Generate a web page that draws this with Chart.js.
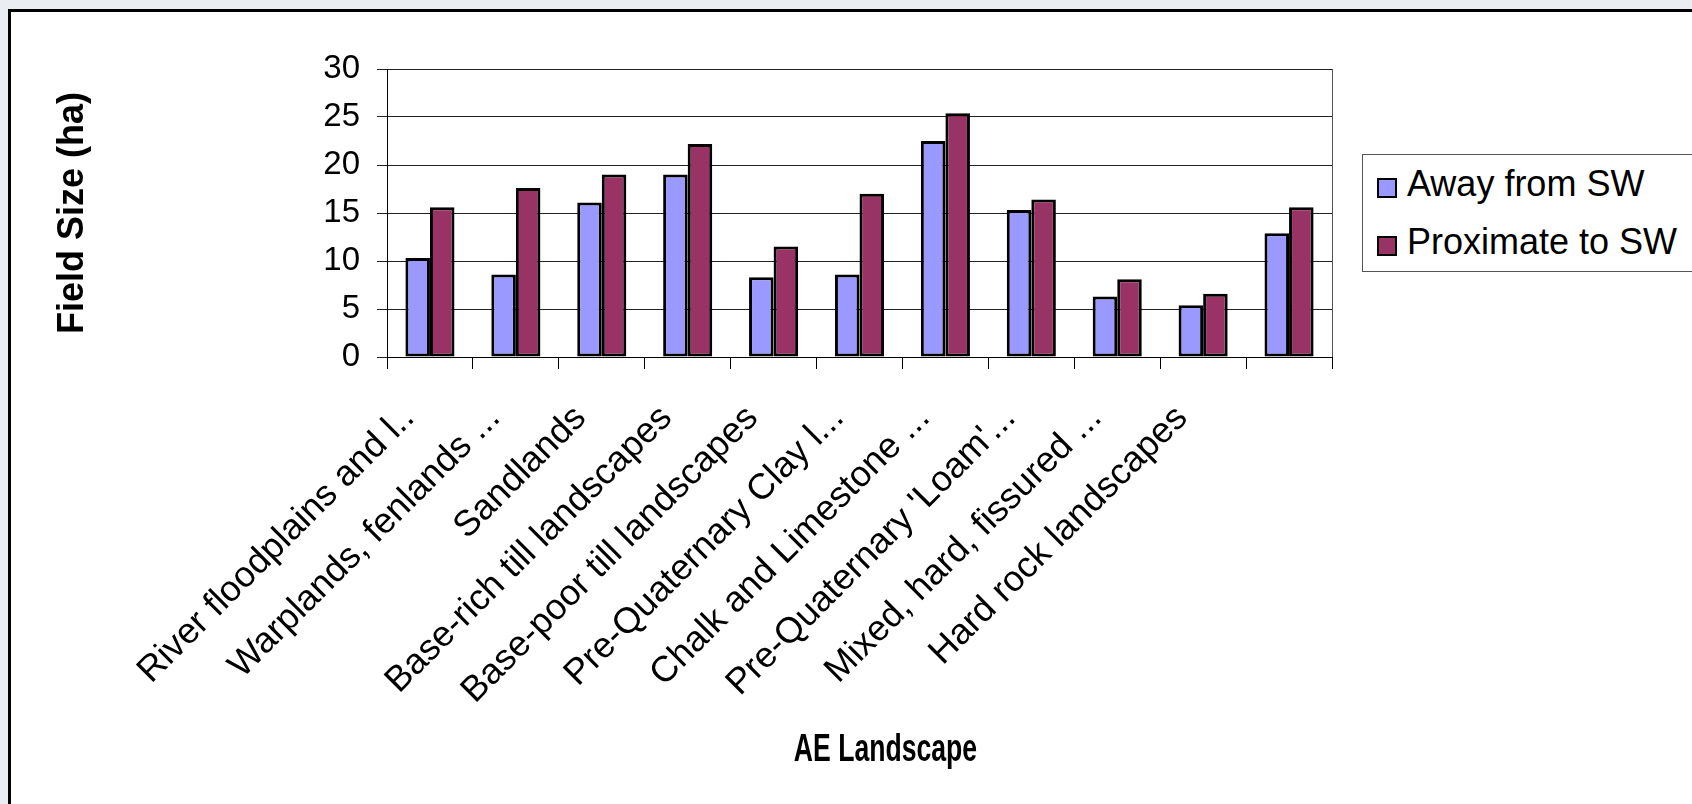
<!DOCTYPE html>
<html>
<head>
<meta charset="utf-8">
<title>Field size by AE landscape</title>
<script src="https://cdn.jsdelivr.net/npm/chart.js@4.4.1/dist/chart.umd.min.js"></script>
<style>
    html, body {
        margin: 0;
        width: 1692px;
        height: 804px;
        overflow: hidden;
        background: #eaedf1;
        font-family: "Liberation Sans", Arial, sans-serif;
    }
    #frame {
        position: absolute;
        left: 8px;
        top: 9px;
        width: 1720px;
        height: 830px;
        background: #fff;
        border-left: 3px solid #000;
        border-top: 3px solid #000;
    }
    #chartBox {
        position: absolute;
        left: 0;
        top: 0;
        width: 1692px;
        height: 804px;
    }
    #legend {
        position: absolute;
        left: 1362px;
        top: 154px;
        width: 380px;
        height: 118px;
        box-sizing: border-box;
        border: 1px solid #555;
        background: #fff;
    }
    .legend-box {
        position: absolute;
        width: 16px;
        height: 16px;
        border: 2px solid #000;
    }
    .legend-text {
        position: absolute;
        font-size: 36px;
        line-height: 36px;
        color: #000;
        white-space: nowrap;
    }
</style>
</head>
<body>
<div id="frame"></div>
<div id="chartBox"><canvas id="barChart"></canvas></div>
<div id="legend"></div>

<script>
const landscapes = [
    "River floodplains and l..",
    "Warplands, fenlands ...",
    "Sandlands",
    "Base-rich till landscapes",
    "Base-poor till landscapes",
    "Pre-Quaternary Clay l...",
    "Chalk and Limestone ...",
    "Pre-Quaternary 'Loam'...",
    "Mixed, hard, fissured ...",
    "Hard rock landscapes",
    ""
];

const awayFromSW = [10.3, 8.6, 16.1, 19.0, 8.3, 8.6, 22.5, 15.3, 6.3, 5.4, 12.9];
const proximateToSW = [15.6, 17.6, 19.0, 22.2, 11.5, 17.0, 25.4, 16.4, 8.1, 6.6, 15.6];

const seriesNames = ["Away from SW", "Proximate to SW"];
const seriesColors = ["#9999ff", "#993366"];

const yTicks = [0, 5, 10, 15, 20, 25, 30];
const yTitle = "Field Size (ha)";
const xTitle = "AE Landscape";

Chart.defaults.font.family = "'Liberation Sans', Arial, sans-serif";
Chart.defaults.color = "#000";

/* ================= PLUGINS ================= */

// thin line closing the plot area on the right
const plotFrame = {
    id: "plotFrame",
    afterDraw(chart) {
        const { ctx, chartArea: a } = chart;
        const x = Math.round(a.right) + 0.5;
        ctx.save();
        ctx.strokeStyle = "#555";
        ctx.lineWidth = 1;
        ctx.beginPath();
        ctx.moveTo(x, a.top);
        ctx.lineTo(x, a.bottom);
        ctx.stroke();
        ctx.restore();
    }
};

// x axis caption, drawn narrow like the original bold caption
const xCaption = {
    id: "xCaption",
    afterDraw(chart) {
        const { ctx, chartArea: a } = chart;
        ctx.save();
        ctx.font = "bold 38px 'Liberation Sans', Arial, sans-serif";
        ctx.fillStyle = "#000";
        ctx.textAlign = "center";
        ctx.textBaseline = "alphabetic";
        ctx.translate((a.left + a.right) / 2 + 26, 761);
        ctx.scale(0.7, 1);
        ctx.fillText(xTitle, 0, 0);
        ctx.restore();
    }
};

/* ================= CHART ================= */

const barChart = new Chart(document.getElementById("barChart"), {
    type: "bar",
    data: {
        labels: landscapes,
        datasets: [
            {
                label: seriesNames[0],
                data: awayFromSW,
                backgroundColor: seriesColors[0]
            },
            {
                label: seriesNames[1],
                data: proximateToSW,
                backgroundColor: seriesColors[1]
            }
        ]
    },
    options: {
        responsive: true,
        maintainAspectRatio: false,
        animation: false,
        layout: {
            padding: { top: 69, right: 360, bottom: 0, left: 0 }
        },
        datasets: {
            bar: {
                categoryPercentage: 2 / 3.5,
                barPercentage: 1,
                borderColor: "#000",
                borderWidth: 3,
                borderSkipped: false
            }
        },
        scales: {
            x: {
                afterFit: s => { s.height = 447; },
                grid: {
                    drawOnChartArea: false,
                    color: "#000",
                    tickLength: 12
                },
                border: { color: "#000", width: 1 },
                ticks: {
                    autoSkip: false,
                    minRotation: 45,
                    maxRotation: 45,
                    padding: 7,
                    font: { size: 36 },
                    // trailing gap pulls the slanted label back from its tick
                    callback: function (value) {
                        const label = this.getLabelForValue(value);
                        return label ? label + "   " : label;
                    }
                }
            },
            y: {
                min: 0,
                max: 30,
                afterFit: s => { s.width = 387; },
                afterBuildTicks: s => {
                    s.ticks = yTicks.map(v => ({ value: v }));
                },
                grid: {
                    color: "#222",
                    lineWidth: 1,
                    tickLength: 10
                },
                border: { color: "#000", width: 1 },
                ticks: {
                    padding: 17,
                    font: { size: 33 }
                },
                title: {
                    display: true,
                    text: yTitle,
                    font: { size: 36, weight: "bold" },
                    padding: { top: 51, bottom: 0 }
                }
            }
        },
        plugins: {
            legend: { display: false },
            tooltip: { enabled: false }
        }
    },
    plugins: [plotFrame, xCaption]
});

/* ================= LEGEND ================= */

function showLegend(chart) {
    const legend = document.getElementById("legend");
    legend.innerHTML = "";
    chart.data.datasets.forEach((ds, i) => {
        const box = document.createElement("div");
        box.className = "legend-box";
        box.style.left = "14px";
        box.style.top = (23 + i * 57.5) + "px";
        box.style.background = ds.backgroundColor;

        const text = document.createElement("div");
        text.className = "legend-text";
        text.style.left = "44px";
        text.style.top = (11 + i * 57.5) + "px";
        text.textContent = ds.label;

        legend.appendChild(box);
        legend.appendChild(text);
    });
}

showLegend(barChart);
</script>
</body>
</html>
